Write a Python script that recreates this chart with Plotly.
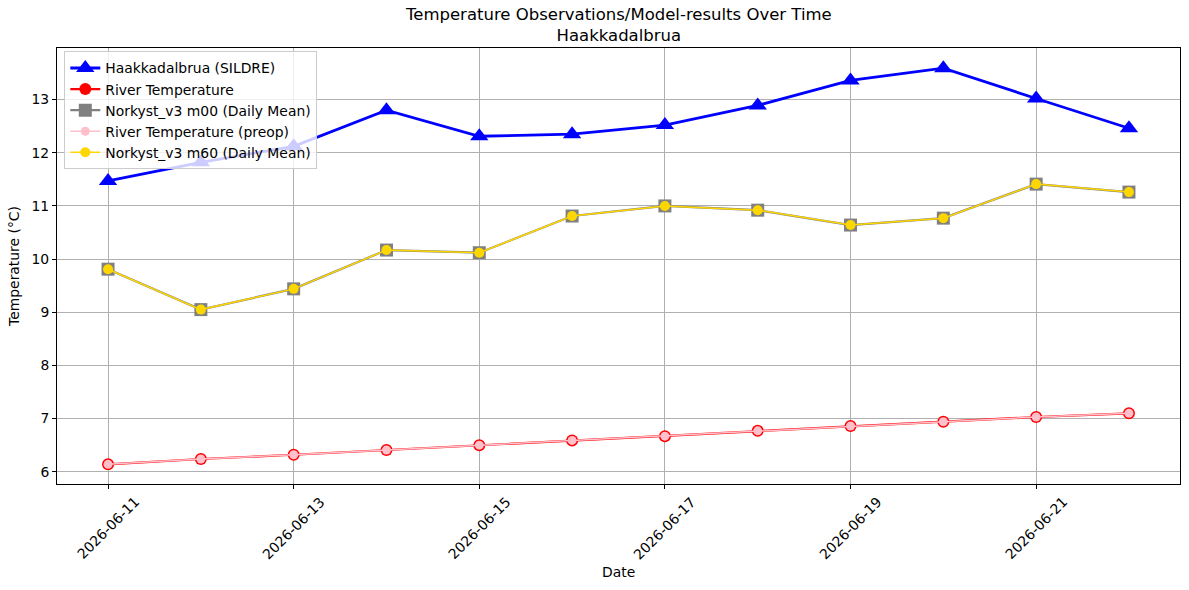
import plotly.graph_objects as go

dates = ["2026-06-11", "2026-06-12", "2026-06-13", "2026-06-14", "2026-06-15", "2026-06-16",
         "2026-06-17", "2026-06-18", "2026-06-19", "2026-06-20", "2026-06-21", "2026-06-22"]
sildre = [11.47, 11.82, 12.12, 12.80, 12.31, 12.35, 12.52, 12.89, 13.36, 13.59, 13.02, 12.46]
river_temp = [6.14, 6.24, 6.32, 6.41, 6.50, 6.59, 6.67, 6.77, 6.86, 6.94, 7.03, 7.10]
river_preop = [6.14, 6.24, 6.32, 6.41, 6.50, 6.59, 6.67, 6.77, 6.86, 6.94, 7.03, 7.10]
norkyst_m00 = [9.81, 9.05, 9.44, 10.17, 10.12, 10.81, 11.00, 10.92, 10.64, 10.77, 11.41, 11.26]
norkyst_m60 = [9.81, 9.05, 9.44, 10.17, 10.12, 10.81, 11.00, 10.92, 10.64, 10.77, 11.41, 11.26]
tick_dates = ["2026-06-11", "2026-06-13", "2026-06-15", "2026-06-17", "2026-06-19", "2026-06-21"]
y_ticks = [6, 7, 8, 9, 10, 11, 12, 13]

fig = go.Figure()
fig.add_trace(go.Scatter(x=dates, y=sildre, mode="lines+markers", name="Haakkadalbrua (SILDRE)",
                         line=dict(color="blue", width=2.8),
                         marker=dict(symbol="triangle-up", size=16, color="blue")))
fig.add_trace(go.Scatter(x=dates, y=river_temp, mode="lines+markers", name="River Temperature",
                         line=dict(color="red", width=2.2),
                         marker=dict(symbol="circle", size=12, color="red")))
fig.add_trace(go.Scatter(x=dates, y=norkyst_m00, mode="lines+markers", name="Norkyst_v3 m00 (Daily Mean)",
                         line=dict(color="gray", width=2.2),
                         marker=dict(symbol="square", size=13, color="gray")))
fig.add_trace(go.Scatter(x=dates, y=river_preop, mode="lines+markers", name="River Temperature (preop)",
                         line=dict(color="pink", width=1.5),
                         marker=dict(symbol="circle", size=9, color="pink")))
fig.add_trace(go.Scatter(x=dates, y=norkyst_m60, mode="lines+markers", name="Norkyst_v3 m60 (Daily Mean)",
                         line=dict(color="gold", width=1.5),
                         marker=dict(symbol="circle", size=10, color="gold")))

axis_common = dict(showline=True, linecolor="black", linewidth=1, mirror=True,
                   showgrid=True, gridcolor="#b0b0b0", gridwidth=0.8,
                   ticks="outside", ticklen=4, tickcolor="black",
                   tickfont=dict(size=13.9, color="black"), zeroline=False, automargin=False)

plot_h = 590 - 48 - 106

annotations = []
for d in tick_dates:
    annotations.append(dict(x=d, xref="x", y=-44 / plot_h, yref="paper", text=d,
                            textangle=-45, showarrow=False, xanchor="center", yanchor="middle",
                            font=dict(size=13.9, color="black")))
annotations.append(dict(x=0.5, xref="paper", y=-88 / plot_h, yref="paper", text="Date",
                        showarrow=False, xanchor="center", yanchor="middle",
                        font=dict(size=13.9, color="black")))
annotations.append(dict(x=0.5, xref="paper", y=1 + 23.5 / plot_h, yref="paper",
                        text="Temperature Observations/Model-results Over Time<br>Haakkadalbrua",
                        showarrow=False, xanchor="center", yanchor="middle", align="center",
                        font=dict(size=16.5, color="black")))

fig.update_layout(
    width=1189, height=590,
    paper_bgcolor="white", plot_bgcolor="white",
    font=dict(family="DejaVu Sans", color="black"),
    margin=dict(l=57, r=9, t=48, b=106),
    xaxis=dict(**axis_common, type="date", range=["2026-06-10 10:48", "2026-06-22 13:12"],
               tickvals=tick_dates, tickformat="%Y-%m-%d", showticklabels=False),
    yaxis=dict(**axis_common, range=[5.77, 13.97], tickvals=y_ticks,
               title=dict(text="Temperature (°C)", font=dict(size=13.9), standoff=8)),
    legend=dict(x=0.0065, y=0.992, xanchor="left", yanchor="top",
                bgcolor="rgba(255,255,255,0.8)", bordercolor="#cccccc", borderwidth=1,
                font=dict(size=13.9), itemwidth=30, tracegroupgap=0),
    annotations=annotations,
    showlegend=True,
)

fig.write_html("out.html")
